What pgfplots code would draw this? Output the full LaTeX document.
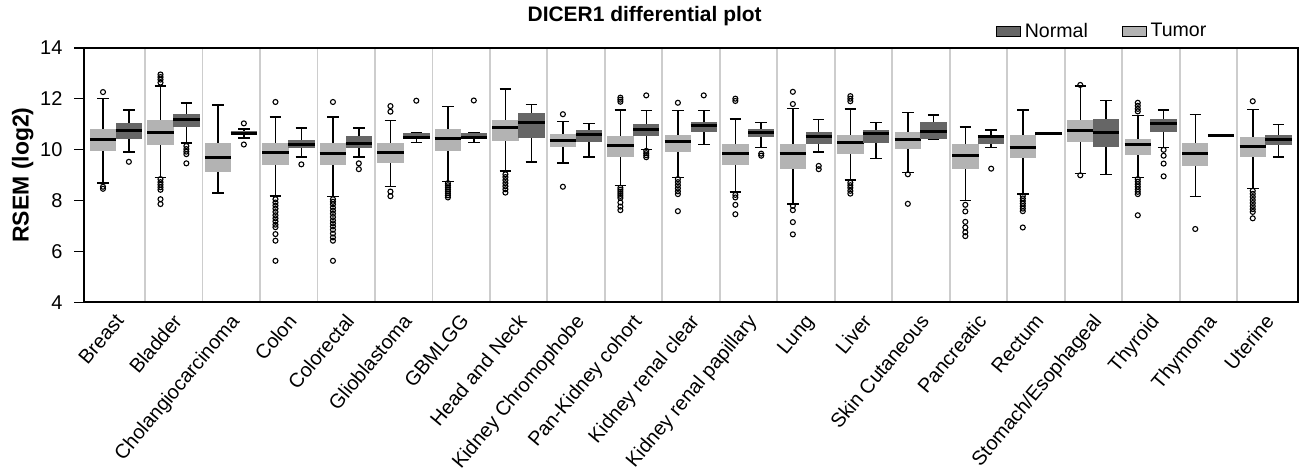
\documentclass[border=0pt]{standalone}
\usepackage{fontspec}
\setmainfont{Liberation Sans}
\usepackage{pgfplots}
\pgfplotsset{compat=1.18}
\usepgfplotslibrary{statistics}

\definecolor{tumorgray}{RGB}{179,179,179}
\definecolor{normalgray}{RGB}{102,102,102}
\definecolor{sepgray}{RGB}{205,205,205}

\pgfplotsset{
  bx/.style={forget plot, draw=black, mark=o,
    mark options={draw=black, fill=none, line width=0.55pt, solid},
    mark size=1.25pt,
    boxplot/draw direction=y,
    boxplot/box extend=0.46, boxplot/whisker extend=0.2,
    boxplot/every box/.style={draw=none, fill=#1},
    boxplot/every median/.style={draw=black, line width=1.5pt},
    boxplot/every whisker/.style={draw=black, line width=0.75pt}},
  tumor/.style={bx=tumorgray},
  normal/.style={bx=normalgray},
}

\begin{document}
\begin{tikzpicture}
\begin{axis}[
  scale only axis, width=608.5pt, height=127.5pt,
  xmin=-0.57, xmax=20.56, ymin=4, ymax=14,
  ytick={4,6,...,14}, ytick pos=left,
  xtick={0,...,20},
  xticklabels={Breast,Bladder,Cholangiocarcinoma,Colon,Colorectal,Glioblastoma,GBMLGG,Head and Neck,Kidney Chromophobe,Pan-Kidney cohort,Kidney renal clear,Kidney renal papillary,Lung,Liver,Skin Cutaneous,Pancreatic,Rectum,Stomach/Esophageal,Thyroid,Thymoma,Uterine},
  xticklabel style={rotate=50, anchor=north east, inner sep=0.5pt, xshift=-0.5pt, yshift=1pt, font=\fontsize{10}{11}\selectfont},
  yticklabel style={font=\fontsize{10}{11}\selectfont, xshift=-2.5pt, /pgf/number format/assume math mode=true},
  x tick style={draw=none},
  minor xtick={0.5,1.5,...,19.5}, xminorgrids,
  minor x grid style={sepgray, line width=0.9pt}, minor tick length=0pt,
  tick align=outside, major tick length=4.5pt,
  y tick style={black, line width=0.8pt},
  axis line style={black, line width=0.85pt},
  ylabel={\bfseries RSEM (log2)},
  ylabel style={at={(axis description cs:-0.050,0.5)}, anchor=center, inner sep=6pt, font=\fontsize{11.5}{12}\selectfont},
  title={\bfseries DICER1 differential plot},
  title style={at={(axis description cs:0.462,1)}, anchor=base, yshift=7pt, font=\fontsize{10.5}{12}\selectfont},
  legend columns=2,
  legend style={draw=none, fill=none, at={(axis description cs:0.751,1.012)}, anchor=south west,
    font=\fontsize{9.8}{11}\selectfont, inner sep=0pt,
    /tikz/every even column/.append style={column sep=15pt}},
  legend image code/.code={\fill[#1] (0pt,-2.5pt) rectangle (12pt,2.5pt);},
]
\addlegendimage{fill=normalgray}\addlegendentry{Normal}
\addlegendimage{fill=tumorgray}\addlegendentry{Tumor}

% Breast
\addplot[tumor, boxplot prepared={draw position=-0.23, lower whisker=8.69, lower quartile=9.95, median=10.41, upper quartile=10.82, upper whisker=12.0}]
  table[row sep=\\, y index=0] {v\\ 12.26\\ 8.54\\ 8.46\\};
\addplot[normal, boxplot prepared={draw position=0.22, lower whisker=9.9, lower quartile=10.42, median=10.76, upper quartile=11.03, upper whisker=11.56}]
  table[row sep=\\, y index=0] {v\\ 9.52\\};
% Bladder
\addplot[tumor, boxplot prepared={draw position=0.77, lower whisker=8.9, lower quartile=10.18, median=10.69, upper quartile=11.15, upper whisker=12.5}]
  table[row sep=\\, y index=0] {v\\ 12.95\\ 12.85\\ 12.75\\ 12.63\\ 8.84\\ 8.72\\ 8.62\\ 8.52\\ 8.42\\ 8.05\\ 7.86\\};
\addplot[normal, boxplot prepared={draw position=1.22, lower whisker=10.25, lower quartile=10.89, median=11.18, upper quartile=11.39, upper whisker=11.84}]
  table[row sep=\\, y index=0] {v\\ 10.14\\ 10.02\\ 9.92\\ 9.82\\ 9.46\\};
% Cholangiocarcinoma
\addplot[tumor, boxplot prepared={draw position=1.77, lower whisker=8.29, lower quartile=9.12, median=9.7, upper quartile=10.27, upper whisker=11.75}]
  coordinates {};
\addplot[normal, boxplot prepared={draw position=2.22, lower whisker=10.46, lower quartile=10.59, median=10.64, upper quartile=10.72, upper whisker=10.81}]
  table[row sep=\\, y index=0] {v\\ 11.03\\ 10.2\\};
% Colon
\addplot[tumor, boxplot prepared={draw position=2.77, lower whisker=8.18, lower quartile=9.4, median=9.87, upper quartile=10.24, upper whisker=11.28}]
  table[row sep=\\, y index=0] {v\\ 11.87\\ 8.05\\ 7.92\\ 7.8\\ 7.68\\ 7.55\\ 7.42\\ 7.3\\ 7.18\\ 7.05\\ 6.95\\ 6.68\\ 6.42\\ 5.63\\};
\addplot[normal, boxplot prepared={draw position=3.22, lower whisker=9.7, lower quartile=10.05, median=10.21, upper quartile=10.39, upper whisker=10.84}]
  table[row sep=\\, y index=0] {v\\ 9.42\\};
% Colorectal
\addplot[tumor, boxplot prepared={draw position=3.77, lower whisker=8.16, lower quartile=9.4, median=9.83, upper quartile=10.24, upper whisker=11.28}]
  table[row sep=\\, y index=0] {v\\ 11.87\\ 8.05\\ 7.95\\ 7.85\\ 7.72\\ 7.6\\ 7.48\\ 7.35\\ 7.22\\ 7.1\\ 6.98\\ 6.85\\ 6.7\\ 6.55\\ 6.42\\ 5.63\\};
\addplot[normal, boxplot prepared={draw position=4.22, lower whisker=9.7, lower quartile=10.07, median=10.25, upper quartile=10.52, upper whisker=10.84}]
  table[row sep=\\, y index=0] {v\\ 9.46\\ 9.23\\};
% Glioblastoma
\addplot[tumor, boxplot prepared={draw position=4.77, lower whisker=8.54, lower quartile=9.48, median=9.87, upper quartile=10.24, upper whisker=11.15}]
  table[row sep=\\, y index=0] {v\\ 11.71\\ 11.49\\ 8.35\\ 8.17\\};
\addplot[normal, boxplot prepared={draw position=5.22, lower whisker=10.28, lower quartile=10.44, median=10.48, upper quartile=10.66, upper whisker=10.68}]
  table[row sep=\\, y index=0] {v\\ 11.92\\};
% GBMLGG
\addplot[tumor, boxplot prepared={draw position=5.77, lower whisker=8.75, lower quartile=9.95, median=10.43, upper quartile=10.8, upper whisker=11.69}]
  table[row sep=\\, y index=0] {v\\ 8.68\\ 8.6\\ 8.52\\ 8.44\\ 8.36\\ 8.28\\ 8.2\\ 8.12\\};
\addplot[normal, boxplot prepared={draw position=6.22, lower whisker=10.27, lower quartile=10.42, median=10.47, upper quartile=10.66, upper whisker=10.68}]
  table[row sep=\\, y index=0] {v\\ 11.93\\};
% Head and Neck
\addplot[tumor, boxplot prepared={draw position=6.77, lower whisker=9.16, lower quartile=10.34, median=10.86, upper quartile=11.18, upper whisker=12.38}]
  table[row sep=\\, y index=0] {v\\ 9.03\\ 8.92\\ 8.8\\ 8.68\\ 8.56\\ 8.44\\ 8.31\\};
\addplot[normal, boxplot prepared={draw position=7.22, lower whisker=9.52, lower quartile=10.44, median=11.06, upper quartile=11.42, upper whisker=11.78}]
  coordinates {};
% Kidney Chromophobe
\addplot[tumor, boxplot prepared={draw position=7.77, lower whisker=9.48, lower quartile=10.1, median=10.37, upper quartile=10.6, upper whisker=11.11}]
  table[row sep=\\, y index=0] {v\\ 11.39\\ 8.54\\};
\addplot[normal, boxplot prepared={draw position=8.22, lower whisker=9.7, lower quartile=10.3, median=10.61, upper quartile=10.76, upper whisker=11.02}]
  coordinates {};
% Pan-Kidney cohort
\addplot[tumor, boxplot prepared={draw position=8.77, lower whisker=8.58, lower quartile=9.71, median=10.17, upper quartile=10.54, upper whisker=11.56}]
  table[row sep=\\, y index=0] {v\\ 12.04\\ 11.96\\ 11.88\\ 8.5\\ 8.42\\ 8.34\\ 8.26\\ 8.18\\ 8.1\\ 7.92\\ 7.76\\ 7.62\\};
\addplot[normal, boxplot prepared={draw position=9.22, lower whisker=10.01, lower quartile=10.54, median=10.77, upper quartile=11.02, upper whisker=11.54}]
  table[row sep=\\, y index=0] {v\\ 12.13\\ 9.95\\ 9.86\\ 9.78\\ 9.7\\};
% Kidney renal clear
\addplot[tumor, boxplot prepared={draw position=9.77, lower whisker=8.9, lower quartile=9.91, median=10.3, upper quartile=10.59, upper whisker=11.54}]
  table[row sep=\\, y index=0] {v\\ 11.84\\ 8.84\\ 8.72\\ 8.6\\ 8.48\\ 8.36\\ 8.25\\ 7.58\\};
\addplot[normal, boxplot prepared={draw position=10.22, lower whisker=10.2, lower quartile=10.69, median=10.95, upper quartile=11.1, upper whisker=11.54}]
  table[row sep=\\, y index=0] {v\\ 12.13\\};
% Kidney renal papillary
\addplot[tumor, boxplot prepared={draw position=10.77, lower whisker=8.33, lower quartile=9.4, median=9.83, upper quartile=10.2, upper whisker=11.2}]
  table[row sep=\\, y index=0] {v\\ 12.0\\ 11.91\\ 8.22\\ 8.12\\ 7.83\\ 7.46\\};
\addplot[normal, boxplot prepared={draw position=11.22, lower whisker=10.08, lower quartile=10.5, median=10.68, upper quartile=10.82, upper whisker=11.07}]
  table[row sep=\\, y index=0] {v\\ 9.84\\ 9.76\\};
% Lung
\addplot[tumor, boxplot prepared={draw position=11.77, lower whisker=7.87, lower quartile=9.25, median=9.83, upper quartile=10.2, upper whisker=11.62}]
  table[row sep=\\, y index=0] {v\\ 12.27\\ 11.79\\ 7.79\\ 7.62\\ 7.15\\ 6.67\\};
\addplot[normal, boxplot prepared={draw position=12.22, lower whisker=9.9, lower quartile=10.22, median=10.52, upper quartile=10.71, upper whisker=11.18}]
  table[row sep=\\, y index=0] {v\\ 9.36\\ 9.23\\};
% Liver
\addplot[tumor, boxplot prepared={draw position=12.77, lower whisker=8.8, lower quartile=9.82, median=10.27, upper quartile=10.59, upper whisker=11.6}]
  table[row sep=\\, y index=0] {v\\ 12.1\\ 12.0\\ 11.9\\ 8.7\\ 8.6\\ 8.5\\ 8.38\\ 8.27\\};
\addplot[normal, boxplot prepared={draw position=13.22, lower whisker=9.65, lower quartile=10.26, median=10.65, upper quartile=10.75, upper whisker=11.06}]
  coordinates {};
% Skin Cutaneous
\addplot[tumor, boxplot prepared={draw position=13.77, lower whisker=9.1, lower quartile=10.03, median=10.38, upper quartile=10.68, upper whisker=11.46}]
  table[row sep=\\, y index=0] {v\\ 9.03\\ 7.87\\};
\addplot[normal, boxplot prepared={draw position=14.22, lower whisker=10.39, lower quartile=10.42, median=10.71, upper quartile=11.07, upper whisker=11.36}]
  coordinates {};
% Pancreatic
\addplot[tumor, boxplot prepared={draw position=14.77, lower whisker=7.99, lower quartile=9.25, median=9.76, upper quartile=10.2, upper whisker=10.89}]
  table[row sep=\\, y index=0] {v\\ 7.83\\ 7.57\\ 7.16\\ 6.94\\ 6.75\\ 6.6\\};
\addplot[normal, boxplot prepared={draw position=15.22, lower whisker=10.08, lower quartile=10.2, median=10.5, upper quartile=10.55, upper whisker=10.76}]
  table[row sep=\\, y index=0] {v\\ 9.25\\};
% Rectum
\addplot[tumor, boxplot prepared={draw position=15.77, lower whisker=8.25, lower quartile=9.65, median=10.1, upper quartile=10.59, upper whisker=11.56}]
  table[row sep=\\, y index=0] {v\\ 8.18\\ 8.08\\ 7.98\\ 7.88\\ 7.78\\ 7.68\\ 7.58\\ 6.94\\};
\addplot[normal, boxplot prepared={draw position=16.22, lower whisker=10.63, lower quartile=10.63, median=10.63, upper quartile=10.63, upper whisker=10.63}]
  coordinates {};
% Stomach/Esophageal
\addplot[tumor, boxplot prepared={draw position=16.77, lower whisker=9.06, lower quartile=10.3, median=10.75, upper quartile=11.18, upper whisker=12.5}]
  table[row sep=\\, y index=0] {v\\ 12.54\\ 8.99\\};
\addplot[normal, boxplot prepared={draw position=17.22, lower whisker=9.03, lower quartile=10.1, median=10.69, upper quartile=11.22, upper whisker=11.93}]
  coordinates {};
% Thyroid
\addplot[tumor, boxplot prepared={draw position=17.77, lower whisker=8.9, lower quartile=9.79, median=10.2, upper quartile=10.43, upper whisker=11.33}]
  table[row sep=\\, y index=0] {v\\ 11.84\\ 11.72\\ 11.6\\ 11.5\\ 8.84\\ 8.74\\ 8.64\\ 8.54\\ 8.44\\ 8.34\\ 8.25\\ 7.42\\};
\addplot[normal, boxplot prepared={draw position=18.22, lower whisker=10.08, lower quartile=10.69, median=11.03, upper quartile=11.19, upper whisker=11.56}]
  table[row sep=\\, y index=0] {v\\ 9.99\\ 9.76\\ 9.45\\ 8.95\\};
% Thymoma
\addplot[tumor, boxplot prepared={draw position=18.77, lower whisker=8.16, lower quartile=9.35, median=9.83, upper quartile=10.25, upper whisker=11.37}]
  table[row sep=\\, y index=0] {v\\ 6.88\\};
\addplot[normal, boxplot prepared={draw position=19.22, lower whisker=10.55, lower quartile=10.55, median=10.55, upper quartile=10.55, upper whisker=10.55}]
  coordinates {};
% Uterine
\addplot[tumor, boxplot prepared={draw position=19.77, lower whisker=8.47, lower quartile=9.71, median=10.14, upper quartile=10.51, upper whisker=11.58}]
  table[row sep=\\, y index=0] {v\\ 11.9\\ 8.38\\ 8.26\\ 8.14\\ 8.02\\ 7.9\\ 7.78\\ 7.66\\ 7.55\\ 7.3\\};
\addplot[normal, boxplot prepared={draw position=20.22, lower whisker=9.71, lower quartile=10.18, median=10.41, upper quartile=10.59, upper whisker=10.99}]
  coordinates {};

\draw[line width=1.3pt] (rel axis cs:0,1) -- (rel axis cs:0,0) -- (rel axis cs:1,0);
\end{axis}
\end{tikzpicture}
\end{document}
